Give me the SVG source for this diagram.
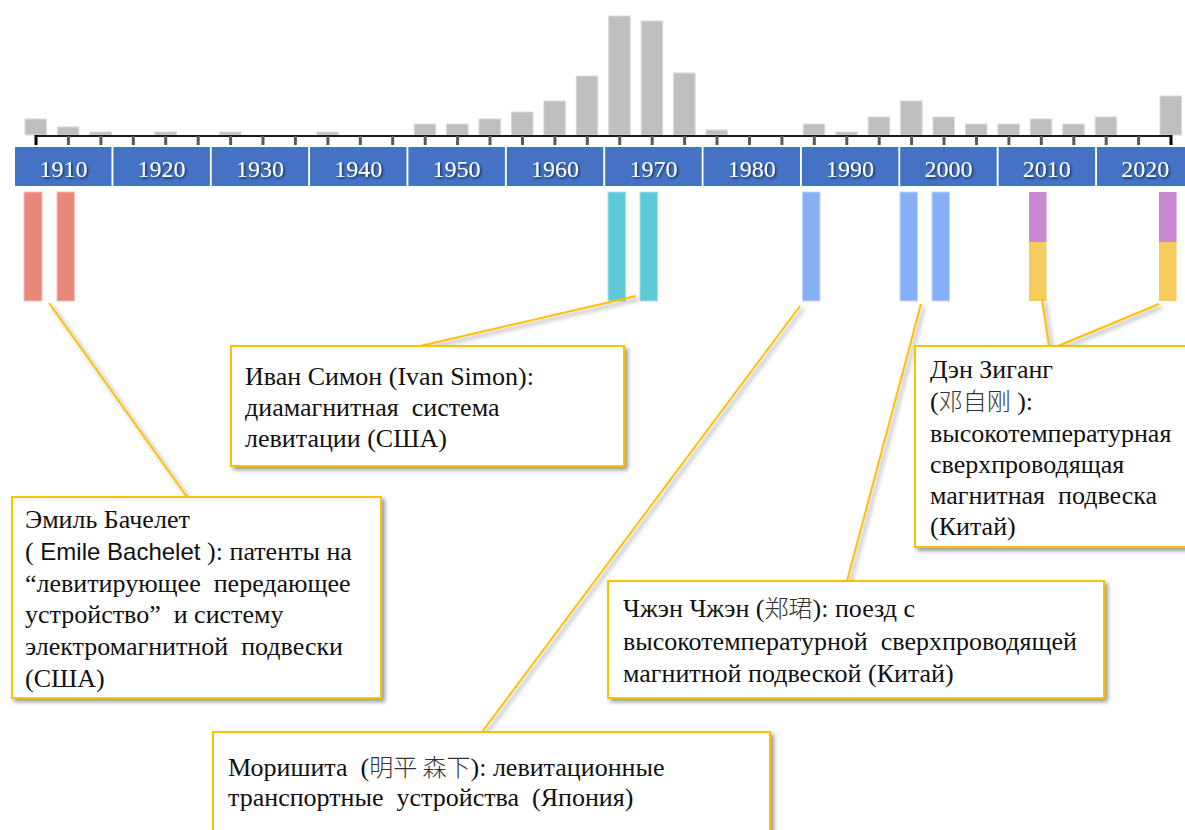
<svg xmlns="http://www.w3.org/2000/svg" width="1185" height="830" viewBox="0 0 1185 830">
<defs>
<style>
.hist{fill:#bfbfbf;stroke:#d9d9d9;stroke-width:1}
.tick{stroke:#595959;stroke-width:3}
.seg{fill:#4472c4}
.yr{font-family:"Liberation Serif",serif;font-size:24px;fill:#ffffff;text-anchor:middle}
.box{fill:#ffffff;stroke:#ffc000;stroke-width:2}
.t{font-family:"Liberation Serif","Noto Sans CJK SC",serif;font-size:26px;fill:#111111;white-space:pre}
.sans{font-family:"Liberation Sans",sans-serif;font-size:24px}
.cjk{font-family:"Noto Sans CJK SC",sans-serif;font-weight:300;font-size:24px;fill:#333333}
.conn{stroke:#ffc000;stroke-width:2;fill:none}
.red{fill:#e9877c;stroke:#f4c0b8;stroke-width:1}
.cyan{fill:#5bc9d7;stroke:#a8e3ea;stroke-width:1}
.blue{fill:#87aff6;stroke:#c3d6fa;stroke-width:1}
.purple{fill:#c98ad3}
.yellow{fill:#f6cd5d}
</style>
<filter id="sh" x="-10%" y="-10%" width="130%" height="130%">
<feDropShadow dx="3" dy="3" stdDeviation="2" flood-color="#000" flood-opacity="0.4"/>
</filter>
<filter id="tsh" x="-10%" y="-10%" width="130%" height="130%">
<feDropShadow dx="1.5" dy="1.5" stdDeviation="0.8" flood-color="#000" flood-opacity="0.6"/>
</filter>
</defs>
<rect width="1185" height="830" fill="#ffffff"/>
<g id="histogram">
<rect class="hist" x="25" y="119" width="21.5" height="16"/>
<rect class="hist" x="57.4" y="127" width="21.5" height="8"/>
<rect class="hist" x="89.9" y="132" width="21.5" height="3"/>
<rect class="hist" x="154.7" y="132" width="21.5" height="3"/>
<rect class="hist" x="219.6" y="132" width="21.5" height="3"/>
<rect class="hist" x="316.9" y="132" width="21.5" height="3"/>
<rect class="hist" x="414.2" y="124" width="21.5" height="11"/>
<rect class="hist" x="446.6" y="124" width="21.5" height="11"/>
<rect class="hist" x="479" y="119" width="21.5" height="16"/>
<rect class="hist" x="511.5" y="112" width="21.5" height="23"/>
<rect class="hist" x="543.9" y="101" width="21.5" height="34"/>
<rect class="hist" x="576.3" y="76" width="21.5" height="59"/>
<rect class="hist" x="608.7" y="16" width="21.5" height="119"/>
<rect class="hist" x="641.2" y="21" width="21.5" height="114"/>
<rect class="hist" x="673.6" y="73" width="21.5" height="62"/>
<rect class="hist" x="706" y="130" width="21.5" height="5"/>
<rect class="hist" x="803.3" y="124" width="21.5" height="11"/>
<rect class="hist" x="835.8" y="132" width="21.5" height="3"/>
<rect class="hist" x="868.2" y="117" width="21.5" height="18"/>
<rect class="hist" x="900.6" y="101" width="21.5" height="34"/>
<rect class="hist" x="933" y="117" width="21.5" height="18"/>
<rect class="hist" x="965.5" y="124" width="21.5" height="11"/>
<rect class="hist" x="997.9" y="124" width="21.5" height="11"/>
<rect class="hist" x="1030.3" y="119" width="21.5" height="16"/>
<rect class="hist" x="1062.8" y="124" width="21.5" height="11"/>
<rect class="hist" x="1095.2" y="117" width="21.5" height="18"/>
<rect class="hist" x="1160" y="96" width="21.5" height="39"/>
</g>
<g id="axis">
<line x1="35" y1="136" x2="1172" y2="136" stroke="#1a1a1a" stroke-width="2"/>
<g class="tick">
<line x1="68.4" y1="136" x2="68.4" y2="145"/><line x1="100.9" y1="136" x2="100.9" y2="145"/><line x1="133.3" y1="136" x2="133.3" y2="145"/><line x1="165.7" y1="136" x2="165.7" y2="145"/><line x1="198.2" y1="136" x2="198.2" y2="145"/><line x1="230.6" y1="136" x2="230.6" y2="145"/><line x1="263" y1="136" x2="263" y2="145"/><line x1="295.4" y1="136" x2="295.4" y2="145"/><line x1="327.9" y1="136" x2="327.9" y2="145"/><line x1="360.3" y1="136" x2="360.3" y2="145"/><line x1="392.7" y1="136" x2="392.7" y2="145"/><line x1="425.2" y1="136" x2="425.2" y2="145"/><line x1="457.6" y1="136" x2="457.6" y2="145"/><line x1="490" y1="136" x2="490" y2="145"/><line x1="522.5" y1="136" x2="522.5" y2="145"/><line x1="554.9" y1="136" x2="554.9" y2="145"/><line x1="587.3" y1="136" x2="587.3" y2="145"/><line x1="619.7" y1="136" x2="619.7" y2="145"/><line x1="652.2" y1="136" x2="652.2" y2="145"/><line x1="684.6" y1="136" x2="684.6" y2="145"/><line x1="717" y1="136" x2="717" y2="145"/><line x1="749.5" y1="136" x2="749.5" y2="145"/><line x1="781.9" y1="136" x2="781.9" y2="145"/><line x1="814.3" y1="136" x2="814.3" y2="145"/><line x1="846.8" y1="136" x2="846.8" y2="145"/><line x1="879.2" y1="136" x2="879.2" y2="145"/><line x1="911.6" y1="136" x2="911.6" y2="145"/><line x1="944" y1="136" x2="944" y2="145"/><line x1="976.5" y1="136" x2="976.5" y2="145"/><line x1="1008.9" y1="136" x2="1008.9" y2="145"/><line x1="1041.3" y1="136" x2="1041.3" y2="145"/><line x1="1073.8" y1="136" x2="1073.8" y2="145"/><line x1="1106.2" y1="136" x2="1106.2" y2="145"/><line x1="1138.6" y1="136" x2="1138.6" y2="145"/>
</g>
<line x1="36" y1="135" x2="36" y2="145" stroke="#000" stroke-width="3"/>
<line x1="1171" y1="135" x2="1171" y2="145" stroke="#000" stroke-width="3"/>
</g>
<g id="timeline">
<rect class="seg" x="15" y="147" width="96.5" height="39"/>
<rect class="seg" x="113.4" y="147" width="96.5" height="39"/>
<rect class="seg" x="211.7" y="147" width="96.5" height="39"/>
<rect class="seg" x="310" y="147" width="96.5" height="39"/>
<rect class="seg" x="408.4" y="147" width="96.5" height="39"/>
<rect class="seg" x="506.8" y="147" width="96.5" height="39"/>
<rect class="seg" x="605.2" y="147" width="96.5" height="39"/>
<rect class="seg" x="703.5" y="147" width="96.5" height="39"/>
<rect class="seg" x="801.9" y="147" width="96.5" height="39"/>
<rect class="seg" x="900.2" y="147" width="96.5" height="39"/>
<rect class="seg" x="998.6" y="147" width="96.5" height="39"/>
<rect class="seg" x="1097" y="147" width="96.5" height="39"/>
<g filter="url(#tsh)">
<text class="yr" x="63.5" y="177">1910</text>
<text class="yr" x="161.6" y="177">1920</text>
<text class="yr" x="260" y="177">1930</text>
<text class="yr" x="358.3" y="177">1940</text>
<text class="yr" x="456.6" y="177">1950</text>
<text class="yr" x="555" y="177">1960</text>
<text class="yr" x="653.4" y="177">1970</text>
<text class="yr" x="751.7" y="177">1980</text>
<text class="yr" x="850" y="177">1990</text>
<text class="yr" x="948.4" y="177">2000</text>
<text class="yr" x="1046.8" y="177">2010</text>
<text class="yr" x="1145.2" y="177">2020</text>
</g>
</g>
<g id="markers">
<rect class="red" x="24" y="192" width="18" height="109"/>
<rect class="red" x="57" y="192" width="17.5" height="109"/>
<rect class="cyan" x="608" y="192" width="17.5" height="109"/>
<rect class="cyan" x="640" y="192" width="17.5" height="109"/>
<rect class="blue" x="802.5" y="192" width="17.5" height="109"/>
<rect class="blue" x="900" y="192" width="17.5" height="109"/>
<rect class="blue" x="932" y="192" width="17.5" height="109"/>
<rect class="purple" x="1029" y="192" width="17.5" height="50"/>
<rect class="yellow" x="1029" y="242" width="17.5" height="59"/>
<rect class="purple" x="1159" y="192" width="17.5" height="50"/>
<rect class="yellow" x="1159" y="242" width="17.5" height="59"/>
</g>
<g id="connectors" filter="url(#sh)">
<line class="conn" x1="49" y1="303" x2="187" y2="497"/>
<line class="conn" x1="636" y1="296" x2="420" y2="346"/>
<line class="conn" x1="800" y1="306" x2="482" y2="732"/>
<line class="conn" x1="921" y1="304" x2="847" y2="581"/>
<line class="conn" x1="1042" y1="299" x2="1049" y2="346"/>
<line class="conn" x1="1159" y1="304" x2="1058" y2="346"/>
</g>
<g id="bachelet">
<rect class="box" x="12" y="497" width="369" height="201" filter="url(#sh)"/>
<text class="t" x="25" y="528">Эмиль Бачелет</text>
<text class="t" x="25" y="560">(<tspan class="sans"> Emile Bachelet </tspan>): патенты на</text>
<text class="t" x="25" y="592">“левитирующее  передающее</text>
<text class="t" x="25" y="623">устройство”  и систему</text>
<text class="t" x="25" y="655">электромагнитной  подвески</text>
<text class="t" x="25" y="687">(США)</text>
</g>
<g id="simon">
<rect class="box" x="231" y="346" width="393" height="120" filter="url(#sh)"/>
<text class="t" x="245" y="385">Иван Симон (Ivan Simon):</text>
<text class="t" x="245" y="416">диамагнитная  система</text>
<text class="t" x="245" y="447">левитации (США)</text>
</g>
<g id="deng">
<rect class="box" x="915" y="346" width="280" height="201" filter="url(#sh)"/>
<text class="t" x="930" y="378">Дэн Зиганг</text>
<text class="t" x="930" y="410">(<tspan class="cjk">邓自刚</tspan> ):</text>
<text class="t" x="930" y="442">высокотемпературная</text>
<text class="t" x="930" y="473">сверхпроводящая</text>
<text class="t" x="930" y="504">магнитная  подвеска</text>
<text class="t" x="930" y="535">(Китай)</text>
</g>
<g id="zheng">
<rect class="box" x="608" y="581" width="496" height="117" filter="url(#sh)"/>
<text class="t" x="623" y="617">Чжэн Чжэн (<tspan class="cjk">郑珺</tspan>): поезд с</text>
<text class="t" x="623" y="650">высокотемпературной  сверхпроводящей</text>
<text class="t" x="623" y="682">магнитной подвеской (Китай)</text>
</g>
<g id="morishita">
<rect class="box" x="213" y="732" width="557" height="110" filter="url(#sh)"/>
<text class="t" x="228" y="776">Моришита  (<tspan class="cjk">明平 森下</tspan>): левитационные</text>
<text class="t" x="228" y="806">транспортные  устройства  (Япония)</text>
</g>
</svg>
